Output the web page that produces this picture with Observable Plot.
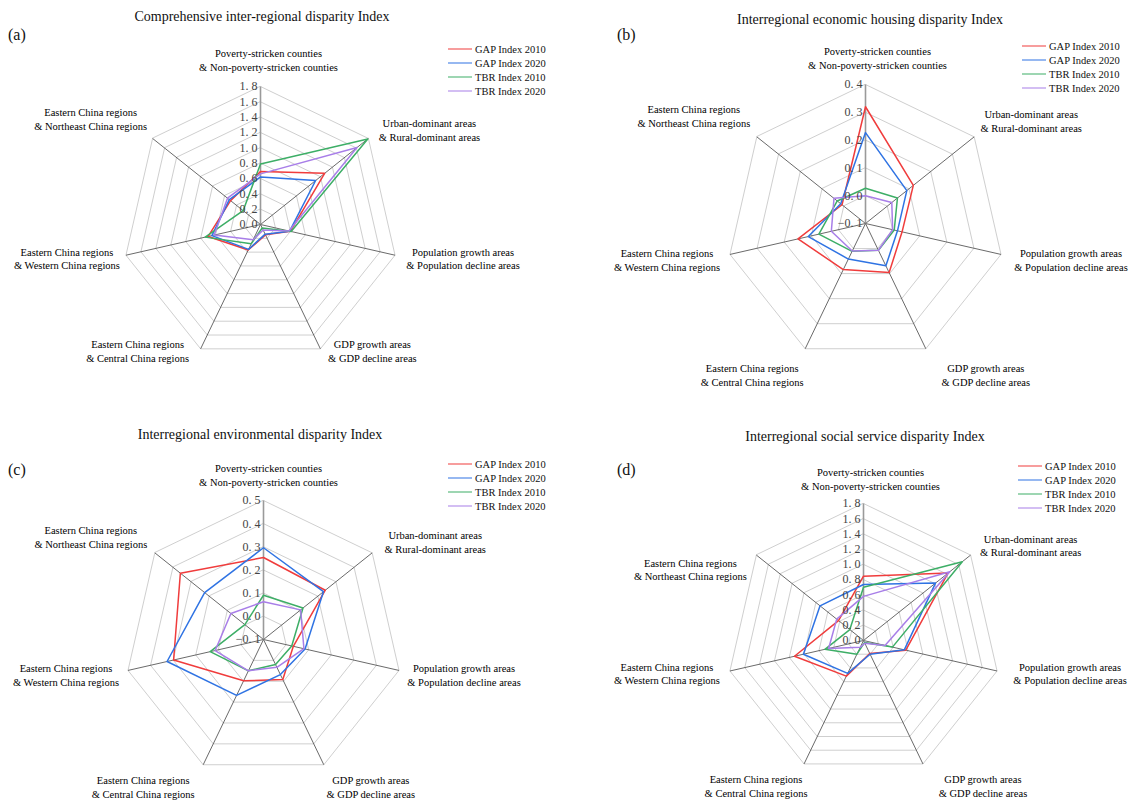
<!DOCTYPE html>
<html><head><meta charset="utf-8">
<script src="https://cdn.jsdelivr.net/npm/d3@7"></script>
<script src="https://cdn.jsdelivr.net/npm/@observablehq/plot@0.6"></script>
<style>
body{margin:0;background:#fff;font-family:"Liberation Serif","Times New Roman",serif;color:#111;}
#root{position:relative;width:1134px;height:801px;overflow:hidden;background:#fff}
.panel{position:absolute}
.panel svg{font-family:"Liberation Serif","Times New Roman",serif !important}
.title{position:absolute;font-size:14px;white-space:nowrap;transform:translate(-50%,-50%)}
.letter{position:absolute;font-size:16px;transform:translateY(-50%)}
.lrow{position:absolute;white-space:nowrap;font-size:10.5px;transform:translateY(-50%);display:flex;align-items:center}
.sw{display:inline-block;width:24px;height:0;border-top:1.5px solid;margin-right:3px}
</style></head><body><div id="root"></div>
<script>
// ---------- shared data ----------
const axisNames = [
  "Poverty-stricken counties\n& Non-poverty-stricken counties",
  "Urban-dominant areas\n& Rural-dominant areas",
  "Population growth areas\n& Population decline areas",
  "GDP growth areas\n& GDP decline areas",
  "Eastern China regions\n& Central China regions",
  "Eastern China regions\n& Western China regions",
  "Eastern China regions\n& Northeast China regions"
];
const seriesNames = ["GAP Index 2010", "GAP Index 2020", "TBR Index 2010", "TBR Index 2020"];
const seriesColors = ["#F03C3C", "#2F73E3", "#3DAE66", "#A87EE8"];

// ---------- panel (a) ----------
const aTitle = "Comprehensive inter-regional disparity Index";
const aTicks = [0.0, 0.2, 0.4, 0.6, 0.8, 1.0, 1.2, 1.4, 1.6, 1.8];
const aTickLabels = ["0. 0", "0. 2", "0. 4", "0. 6", "0. 8", "1. 0", "1. 2", "1. 4", "1. 6", "1. 8"];
const aGap2010 = [0.69, 1.07, 0.40, 0.15, 0.37, 0.70, 0.50];
const aGap2020 = [0.62, 0.92, 0.39, 0.14, 0.36, 0.65, 0.52];
const aTbr2010 = [0.79, 1.79, 0.41, 0.05, 0.28, 0.74, 0.29];
const aTbr2020 = [0.66, 1.61, 0.38, 0.08, 0.22, 0.62, 0.55];

// ---------- panel (b) ----------
const bTitle = "Interregional economic housing disparity Index";
const bTicks = [-0.1, 0.0, 0.1, 0.2, 0.3, 0.4];
const bTickLabels = ["\u22120. 1", "0. 0", "0. 1", "0. 2", "0. 3", "0. 4"];
const bGap2010 = [0.32, 0.12, 0.035, 0.096, 0.084, 0.149, 0.008];
const bGap2020 = [0.227, 0.09, 0.018, 0.069, 0.042, 0.111, 0.014];
const bTbr2010 = [0.027, 0.047, 0.006, 0.007, 0.011, 0.072, 0.03];
const bTbr2020 = [0.0, 0.021, 0.0, 0.007, 0.01, 0.026, 0.045];

// ---------- panel (c) ----------
const cTitle = "Interregional environmental disparity Index";
const cTicks = [-0.1, 0.0, 0.1, 0.2, 0.3, 0.4, 0.5];
const cTickLabels = ["\u22120. 1", "0. 0", "0. 1", "0. 2", "0. 3", "0. 4", "0. 5"];
const cGap2010 = [0.254, 0.241, 0.032, 0.092, 0.098, 0.298, 0.359];
const cGap2020 = [0.296, 0.231, 0.084, 0.068, 0.168, 0.327, 0.225];
const cTbr2010 = [0.091, 0.118, 0.025, 0.02, 0.05, 0.136, 0.003];
const cTbr2020 = [0.063, 0.105, 0.079, 0.033, 0.05, 0.114, 0.08];

// ---------- panel (d) ----------
const dTitle = "Interregional social service disparity Index";
const dTicks = [0.0, 0.2, 0.4, 0.6, 0.8, 1.0, 1.2, 1.4, 1.6, 1.8];
const dTickLabels = ["0. 0", "0. 2", "0. 4", "0. 6", "0. 8", "1. 0", "1. 2", "1. 4", "1. 6", "1. 8"];
const dGap2010 = [0.845, 1.42, 0.57, 0.19, 0.52, 0.93, 0.42];
const dGap2020 = [0.736, 1.21, 0.55, 0.20, 0.48, 0.81, 0.73];
const dTbr2010 = [0.70, 1.66, 0.39, 0.03, 0.20, 0.52, 0.23];
const dTbr2020 = [0.58, 1.45, 0.29, 0.04, 0.10, 0.47, 0.45];

// ---------- layout (positions / styles) ----------
const panels = [
  {letter: "(a)", title: aTitle, ticks: aTicks, tickLabels: aTickLabels,
   series: [aGap2010, aGap2020, aTbr2010, aTbr2020],
   left: 0, top: 0, w: 567, h: 400, cx: 260, cy: 224, R: 138,
   titleX: 262, titleY: 17, letterX: 8, letterY: 35,
   legX: 448, legY: 49,
   labelOff: [[8,-27],[61,-9],[68,3],[52,2],[-63,2],[-59,3],[-62,-20]]},
  {letter: "(b)", title: bTitle, ticks: bTicks, tickLabels: bTickLabels,
   series: [bGap2010, bGap2020, bTbr2010, bTbr2020],
   left: 567, top: 0, w: 567, h: 400, cx: 298, cy: 223, R: 139,
   titleX: 303, titleY: 20, letterX: 50, letterY: 35,
   legX: 455, legY: 46,
   labelOff: [[12,-27],[57,-16],[70,5],[60,26],[-53,26],[-63,5],[-63,-21]]},
  {letter: "(c)", title: cTitle, ticks: cTicks, tickLabels: cTickLabels,
   series: [cGap2010, cGap2020, cTbr2010, cTbr2020],
   left: 0, top: 400, w: 567, h: 401, cx: 263, cy: 239, R: 139,
   titleX: 260, titleY: 35, letterX: 8, letterY: 70,
   legX: 448, legY: 64,
   labelOff: [[5,-26],[63,-11],[65,4],[47,22],[-60,22],[-62,4],[-64,-16]]},
  {letter: "(d)", title: dTitle, ticks: dTicks, tickLabels: dTickLabels,
   series: [dGap2010, dGap2020, dTbr2010, dTbr2020],
   left: 567, top: 400, w: 567, h: 401, cx: 296, cy: 240, R: 137,
   titleX: 298, titleY: 37, letterX: 50, letterY: 70,
   legX: 451, legY: 66,
   labelOff: [[7,-25],[60,-10],[73,2],[60,22],[-48,22],[-63,2],[-66,14]]}
];

const FONT = "Liberation Serif, Times New Roman, serif";

function radar(p) {
  const n = axisNames.length;
  const ang = i => 2 * Math.PI * i / n;
  const min = p.ticks[0], max = p.ticks[p.ticks.length - 1];
  const rn = v => (v - min) / (max - min);
  const pt = (i, r) => ({x: r * Math.sin(ang(i)), y: r * Math.cos(ang(i))});
  const rings = p.ticks.slice(1).flatMap(t => d3.range(n).map(i => ({...pt(i, rn(t)), t})));
  const spokes = d3.range(n).map(i => ({i, ...pt(i, 1)}));
  const lines = p.series.flatMap((vals, s) => vals.map((v, i) => ({name: seriesNames[s], ...pt(i, rn(v))})));
  const ticks = p.ticks.map((t, k) => ({x: 0, y: rn(t), label: p.tickLabels[k]}));
  const labelMarks = axisNames.map((name, i) =>
    Plot.text([{name, ...pt(i, 1)}], {x: "x", y: "y", text: "name", dx: p.labelOff[i][0], dy: p.labelOff[i][1],
      textAnchor: "middle", lineAnchor: "middle", lineHeight: 1.3, fontSize: 10.5, fontFamily: FONT, fill: "#000"}));
  return Plot.plot({
    width: p.w, height: p.h, margin: 0,
    x: {domain: [-p.cx / p.R, (p.w - p.cx) / p.R], range: [0, p.w], axis: null},
    y: {domain: [-(p.h - p.cy) / p.R, p.cy / p.R], range: [p.h, 0], axis: null},
    color: {domain: seriesNames, range: seriesColors},
    style: {fontFamily: FONT, background: "transparent", overflow: "visible"},
    marks: [
      Plot.line(rings, {x: "x", y: "y", z: "t", curve: "linear-closed", stroke: "#cfcfcf", strokeWidth: 1}),
      Plot.link(spokes.filter(d => d.i > 0), {x1: () => 0, y1: () => 0, x2: "x", y2: "y", stroke: "#444", strokeWidth: 0.8}),
      Plot.link(spokes.filter(d => d.i === 0), {x1: () => 0, y1: () => 0, x2: "x", y2: "y", stroke: "#9a9a9a", strokeWidth: 1.6}),
      Plot.line(lines, {x: "x", y: "y", z: "name", stroke: "name", curve: "linear-closed", strokeWidth: 1.5}),
      Plot.text(ticks, {x: "x", y: "y", text: "label", textAnchor: "end", dx: -3, fontSize: 12, fontFamily: FONT, fill: "#444"}),
      ...labelMarks
    ]
  });
}

const root = document.getElementById("root");
for (const p of panels) {
  const wrap = document.createElement("div");
  wrap.className = "panel";
  wrap.style.left = p.left + "px"; wrap.style.top = p.top + "px";
  wrap.style.width = p.w + "px"; wrap.style.height = p.h + "px";
  wrap.appendChild(radar(p));
  const t = document.createElement("div");
  t.className = "title"; t.textContent = p.title;
  t.style.left = p.titleX + "px"; t.style.top = p.titleY + "px";
  wrap.appendChild(t);
  const l = document.createElement("div");
  l.className = "letter"; l.textContent = p.letter;
  l.style.left = p.letterX + "px"; l.style.top = p.letterY + "px";
  wrap.appendChild(l);
  seriesNames.forEach((s, k) => {
    const r = document.createElement("div");
    r.className = "lrow";
    r.style.left = p.legX + "px"; r.style.top = (p.legY + k * 14) + "px";
    const sw = document.createElement("span");
    sw.className = "sw"; sw.style.borderTopColor = seriesColors[k];
    r.appendChild(sw);
    r.appendChild(document.createTextNode(s));
    wrap.appendChild(r);
  });
  root.appendChild(wrap);
}
</script></body></html>
